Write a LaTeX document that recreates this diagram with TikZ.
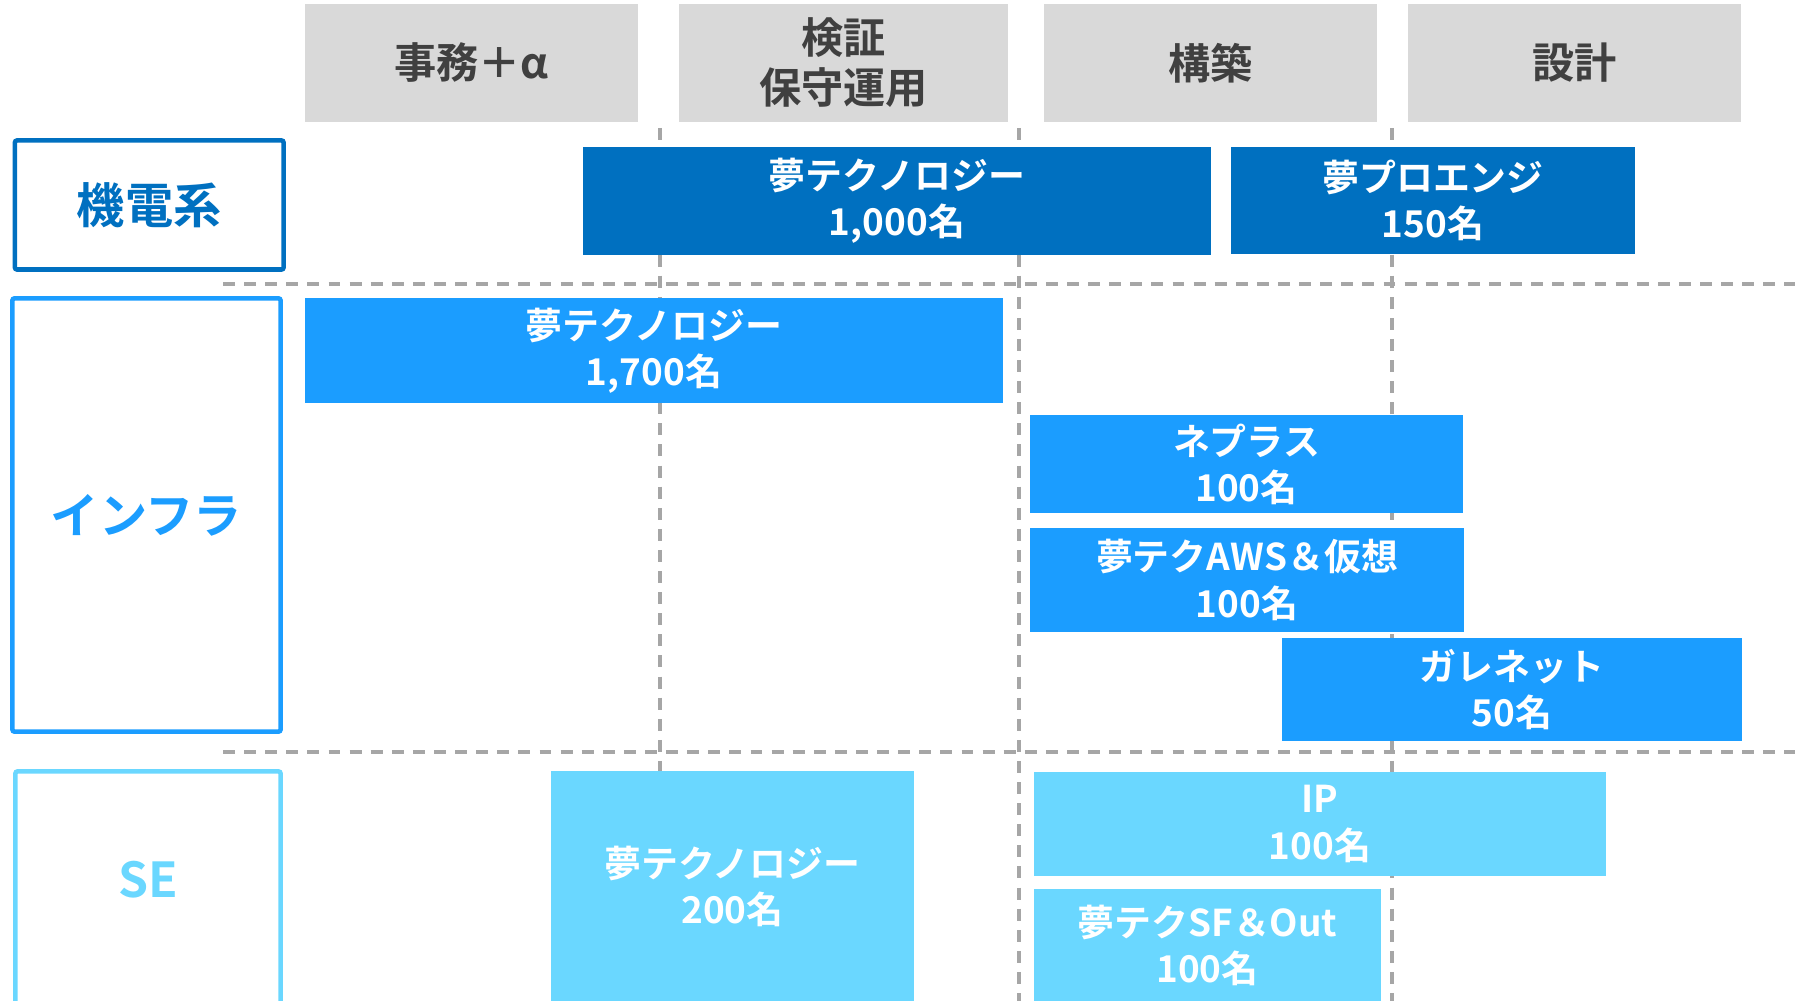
\documentclass[tikz,border=0pt]{standalone}
\usepackage{fontspec}
\setmainfont{Noto Sans CJK JP}[BoldFont={* Bold}]
\definecolor{hdr}{HTML}{D9D9D9}
\definecolor{hdrtxt}{HTML}{404040}
\definecolor{dblue}{HTML}{0070C0}
\definecolor{bblue}{HTML}{1B9DFF}
\definecolor{lblue}{HTML}{6AD7FF}
\definecolor{gridc}{HTML}{A6A6A6}
\begin{document}
\begin{tikzpicture}[x=0.01cm,y=-0.01cm,
  hdrbox/.style={fill=hdr, inner sep=0pt, text=hdrtxt, align=center,
    minimum height=1.18cm, font=\fontsize{12}{14.2}\selectfont\bfseries},
  barbox/.style={inner sep=0pt, text=white, align=center,
    font=\fontsize{10.5}{13.1}\selectfont\bfseries},
  rowbox/.style={draw=#1, line width=1.3pt, rounded corners=0.6pt, inner sep=0pt, text=#1,
    font=\fontsize{13.7}{16}\selectfont\bfseries},
  rowtext/.style={text=#1, inner sep=0pt, font=\fontsize{13.7}{16}\selectfont\bfseries},
  gridline/.style={gridc, line width=1pt, dash pattern=on 3.4pt off 2.6pt}
]
\useasboundingbox (0,0) rectangle (1795,1001);
\clip (0,0) rectangle (1795,1001);

% header boxes
\node[hdrbox, minimum width=3.33cm] (h1) at (471.5,63) {事務＋α};
\node[hdrbox, minimum width=3.29cm] (h2) at (843.5,63) {検証\\保守運用};
\node[hdrbox, minimum width=3.33cm] (h3) at (1210.5,63) {構築};
\node[hdrbox, minimum width=3.33cm] (h4) at (1574.5,63) {設計};

% grid coordinates
\coordinate (ha1) at (223,284);
\coordinate (hb1) at (1795,284);
\coordinate (ha2) at (223,752);
\coordinate (hb2) at (1795,752);
\coordinate (va1) at (660,128);
\coordinate (vb1) at (660,1001);
\coordinate (va2) at (1019,128);
\coordinate (vb2) at (1019,1001);
\coordinate (va3) at (1392,128);
\coordinate (vb3) at (1392,1001);
\draw[gridline] (ha1) -- (hb1);
\draw[gridline] (ha2) -- (hb2);
\draw[gridline] (va1) -- (vb1);
\draw[gridline] (va2) -- (vb2);
\draw[gridline] (va3) -- (vb3);

% row label boxes
\node[rowbox=dblue, minimum width=2.685cm, minimum height=1.29cm] (r1) at (149.25,205) {機電系};
\node[rowbox=bblue, minimum width=2.68cm, minimum height=4.33cm] (r2) at (146.5,515) {インフラ};
\node[rowbox=lblue, minimum width=2.65cm, minimum height=2.405cm] (r3) at (148,891.75) {};
\node[rowtext=lblue] (r3t) at (148,880) {SE};

% bars
\node[barbox, fill=dblue, minimum width=6.28cm, minimum height=1.08cm] (b1) at (897,201) {夢テクノロジー\\1,000名};
\node[barbox, fill=dblue, minimum width=4.04cm, minimum height=1.07cm] (b2) at (1433,200.5) {夢プロエンジ\\150名};
\node[barbox, fill=bblue, minimum width=6.98cm, minimum height=1.05cm] (b3) at (654,350.5) {夢テクノロジー\\1,700名};
\node[barbox, fill=bblue, minimum width=4.33cm, minimum height=0.98cm] (b4) at (1246.5,464) {ネプラス\\100名};
\node[barbox, fill=bblue, minimum width=4.34cm, minimum height=1.04cm] (b5) at (1247,580) {夢テクAWS＆仮想\\100名};
\node[barbox, fill=bblue, minimum width=4.60cm, minimum height=1.03cm] (b6) at (1512,689.5) {ガレネット\\50名};
\node[barbox, fill=lblue, minimum width=3.63cm, minimum height=2.30cm] (b7) at (732.5,886) {夢テクノロジー\\200名};
\node[barbox, fill=lblue, minimum width=5.72cm, minimum height=1.04cm] (b8) at (1320,824) {IP\\100名};
\node[barbox, fill=lblue, minimum width=3.47cm, minimum height=1.12cm] (b9) at (1207.5,945) {夢テクSF＆Out\\100名};
\end{tikzpicture}
\end{document}
